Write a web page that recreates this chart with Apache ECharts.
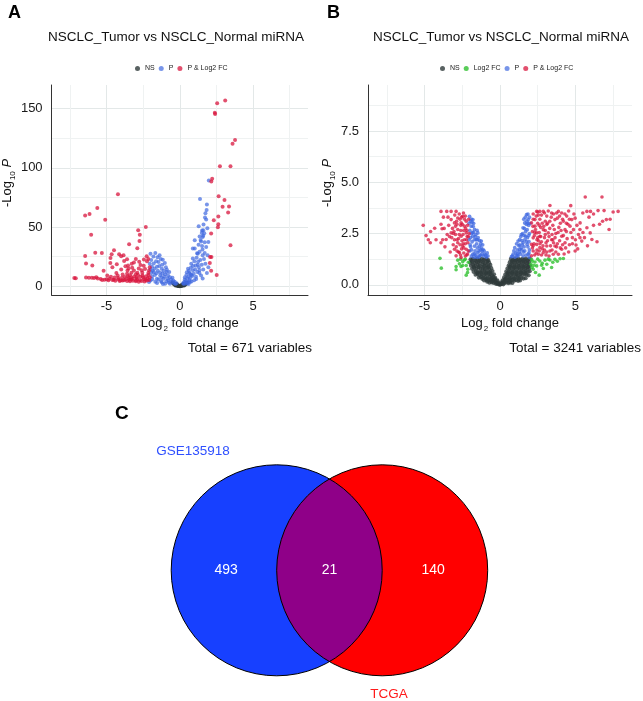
<!DOCTYPE html>
<html>
<head>
<meta charset="utf-8">
<script src="https://cdn.jsdelivr.net/npm/echarts@6/dist/echarts.min.js"></script>
<style>
  html, body { margin: 0; padding: 0; background: #fff; }
  #chart { width: 643px; height: 701px; }
</style>
</head>
<body>
<div id="chart"></div>
<script>
// ---- panel A : volcano (GSE135918) ----
const nsA = [[-0.5,3.0],[-0.45,2.6],[-0.4,1.5],[-0.35,2.1],[-0.32,1.6],[-0.3,0.6],[-0.28,1.2],[-0.25,0.8],[-0.22,1.8],[-0.2,0.5],
  [-0.18,1.1],[-0.15,0.3],[-0.12,0.7],[-0.1,0.2],[-0.08,0.4],[-0.05,0.1],[-0.02,0.05],[0,0],[0.02,0.1],[0.05,0.2],
  [0.08,0.5],[0.1,0.3],[0.12,0.8],[0.15,0.4],[0.18,1.2],[0.2,0.6],[0.22,1.5],[0.25,0.9],[0.28,1.9],[0.3,1.1],
  [0.3,0.5],[0.33,1.6],[0.36,2.2],[0.4,1.4],[0.45,2.4],[0.5,2.9]];
const pA = [[-2.0,27.4],[-1.67,28],[-1.16,22.4],[-1.45,20.3],[-1.78,19.2],[-1.9,16.3],[-1.56,16.3],[-1.23,14.7],[-0.9,11.9],[-1.0,10],
  [-0.67,7.6],[-0.45,4.8],[-0.22,2.5],[-1.78,11.9],[-1.9,8.2],[-1.56,6.2],[-1.34,9],[-1.12,6.2],[-0.78,4.8],[-2.0,4.8],
  [-1.67,3.7],[-1.23,3.2],[-1.0,2.1],[-0.67,2.1],[-1.95,22],[-1.85,13],[-1.8,25],[-1.7,9.5],[-1.62,21],[-1.5,13],
  [-1.45,5.5],[-1.4,17],[-1.35,11.5],[-1.3,23],[-1.25,7.5],[-1.2,18],[-1.1,13],[-1.05,8],[-0.95,16],[-0.85,6.5],
  [-0.8,9],[-0.75,3],[-0.6,5.5],[-0.55,3.5],[-0.5,7],[-0.4,2.5],[-0.35,3.6],[-0.3,1.8],[-1.95,11],[-2.05,19],
  [-2.1,3.5],[-1.88,5.8],[-1.72,15],[-1.6,10.8],[-1.52,24.5],[-1.38,26],[-1.28,4.3],[-1.18,10.6],[-0.92,4.2],[-0.88,13.8],
  [-1.02,19.5],[-0.72,12],[-2.0,14],[-1.55,2.6],[-1.15,1.8],
  [1.98,89.3],[1.38,73.7],[1.85,69],[1.83,64.4],[1.75,61.5],[1.8,56.3],[1.88,49],[1.29,50.6],[1.52,47],[1.6,47.2],
  [1.35,42],[1.6,42.5],[1.95,37.3],[1.7,37],[1.52,34],[1.02,31.7],[1.18,27.7],[1.02,38.7],[1.56,41.5],[1.67,44.6],
  [1.45,37.7],[0.89,31.7],[1.23,27.4],[0.89,23.4],[1.56,26],[0.78,19],[1.23,18],[0.56,14.7],[0.89,13.4],[1.34,13.4],
  [0.45,9.3],[0.78,9.3],[1.34,11],[0.34,5.7],[0.67,5],[1.12,6],[0.22,2.5],[1.56,6.5],[0.3,3.5],[0.4,4.2],
  [0.5,6.5],[0.55,3.8],[0.6,8],[0.65,11],[0.7,6.8],[0.75,15.5],[0.8,4],[0.85,8.5],[0.9,17],[0.95,10.5],
  [1.0,21],[1.05,14],[1.1,8],[1.15,24],[1.2,12],[1.25,20.5],[1.3,16],[1.35,29],[1.4,22],[1.45,9],
  [1.5,18],[1.55,31],[1.6,14],[1.65,23],[1.7,28],[1.75,19],[1.8,33],[1.85,11],[1.9,26],[1.95,16],
  [0.35,7.6],[0.48,11.8],[0.62,13],[0.72,10.2],[0.98,5],[1.08,17.5],[1.28,35],[1.42,39],[1.5,45],[1.62,52],
  [1.72,58],[0.52,2.6],[0.68,3.2],[0.42,2.2],[0.28,1.9],[0.6,1.9]];
const bothA = [[-7.2,6.8],[-7.1,6.6],[-6.46,59.7],[-6.16,61],[-5.63,66],[-6.05,43.5],[-4.22,77.7],[-5.09,56],[-6.46,25.4],[-6.4,19.2],
  [-5.97,17.5],[-5.77,28.3],[-5.32,28],[-5.2,13],[-6.4,7.2],[-6.2,7],[-6.0,7.1],[-3.84,26],[-3.46,35.3],[-2.84,47.2],
  [-2.73,43.5],[-2.32,50],[-2.75,38.1],[-2.9,32],[-4.49,30.3],[-4.73,23.7],[-4.14,27],[-4.65,26.9],[-4.0,25.2],[-4.74,19.5],
  [-3.8,21.2],[-3.71,16.7],[-3.53,17.5],[-3.28,19],[-3.13,20],[-2.77,20.7],[-2.68,17.8],[-2.46,17.3],[-2.26,25.2],[-2.24,21],
  [-2.15,23],[-2.37,14.4],[-3.13,13.3],[-3.57,13.3],[-3.3,11.3],[-2.9,11.3],[-2.56,11.3],[-2.5,7.6],[-2.97,7],[-4.33,11],
  [-4.24,9],[-4.51,5.4],[-5.14,5.4],[-4.87,5],[-4.02,5],[-3.8,5],[-3.46,5.4],[-3.24,6],[-2.99,5],[-2.72,5],
  [-2.35,5.4],[-2.14,9.3],[-2.1,13.3],[-5.6,6.5],[-5.4,6],[-5.3,5.2],[-5.0,5.8],[-4.8,6.2],[-4.6,5.1],[-4.4,4.6],
  [-4.2,5.5],[-4.1,4.3],[-3.9,4.8],[-3.7,5.9],[-3.6,4.4],[-3.5,6.8],[-3.4,4.1],[-3.3,7.5],[-3.2,4.6],[-3.1,8.2],
  [-3.0,4.2],[-2.9,6.3],[-2.85,9.5],[-2.8,3.8],[-2.7,7.9],[-2.6,4.4],[-2.55,9],[-2.45,6.1],[-2.4,3.9],[-2.3,8.4],
  [-2.25,4.7],[-2.2,6.5],[-2.15,11],[-2.1,5.2],[-2.05,16],[-2.05,7.5],[-3.9,9.8],[-3.6,10.5],[-3.4,9.2],[-3.0,10],
  [-2.6,13.5],[-3.5,14.8],[-3.25,15.5],[-2.8,15],[-4.0,14],[-4.6,16],[-2.45,22.5],[-3.0,23],[-3.6,22.8],[-4.3,18.5],
  [-5.7,7.4],[-5.85,6.8],[-4.95,9],[-4.7,8],[-4.45,7.2],[-4.2,6.8],[-3.95,7],[-3.75,7.8],[-3.55,8.4],[-3.35,5.6],
  [2.55,154.6],[3.1,157],[2.39,146.6],[2.41,145.5],[3.77,123.5],[3.6,120.3],[2.74,101.4],[3.46,101.4],[2.21,90.7],[2.15,88.5],
  [2.65,76],[3.05,72.9],[2.92,67],[3.36,67.3],[3.3,62.2],[2.32,55.7],[2.63,58.8],[2.63,52.3],[2.6,49.7],[2.14,44.4],
  [3.46,34.5],[2.07,24.6],[2.16,24.6],[2.05,19.5],[2.14,13],[2.52,9.3]];

// ---- panel B : volcano (TCGA) ----
const nsB = [[-1.95,1.24],[-1.8,1.27],[-1.65,1.21],[-1.5,1.26],[-1.35,1.22],[-1.2,1.28],[-1.05,1.23],[-0.9,1.26],[-0.78,1.2],
  [-1.98,1.08],[-1.85,1.12],[-1.7,1.06],[-1.55,1.11],[-1.42,1.07],[-1.28,1.13],[-1.12,1.09],[-0.98,1.05],[-0.85,1.12],[-0.72,1.08],
  [-1.92,0.93],[-1.78,0.97],[-1.62,0.92],[-1.48,0.98],[-1.33,0.94],[-1.18,0.99],[-1.03,0.93],[-0.9,0.96],[-0.76,0.92],[-0.64,0.97],
  [-1.85,0.78],[-1.72,0.82],[-1.58,0.77],[-1.44,0.83],[-1.3,0.79],[-1.15,0.81],[-1.0,0.76],[-0.86,0.82],[-0.72,0.78],[-0.58,0.81],
  [-1.75,0.63],[-1.6,0.67],[-1.46,0.62],[-1.32,0.66],[-1.18,0.64],[-1.04,0.68],[-0.9,0.62],[-0.77,0.66],[-0.63,0.63],[-0.5,0.67],
  [-1.62,0.49],[-1.48,0.52],[-1.34,0.47],[-1.2,0.51],[-1.06,0.48],[-0.92,0.53],[-0.78,0.49],[-0.65,0.52],[-0.52,0.47],[-0.4,0.51],
  [-1.4,0.35],[-1.26,0.38],[-1.12,0.34],[-0.98,0.37],[-0.84,0.33],[-0.7,0.38],[-0.57,0.35],[-0.44,0.37],[-0.32,0.34],
  [-1.05,0.21],[-0.92,0.24],[-0.78,0.2],[-0.65,0.23],[-0.52,0.21],[-0.4,0.24],[-0.28,0.2],[-0.18,0.22],
  [-0.7,0.1],[-0.55,0.12],[-0.42,0.09],[-0.3,0.11],[-0.2,0.08],[-0.1,0.1],[-0.25,0.04],[-0.12,0.03],[-0.05,0.02],[0,0],
  [-1.88,1.17],[-1.6,1.16],[-1.36,1.17],[-1.1,1.18],[-0.82,1.16],[-1.72,0.88],[-1.4,0.87],[-1.1,0.87],[-0.8,0.86],[-1.52,0.57],
  [-1.25,0.58],[-0.96,0.57],[-0.7,0.58],[-1.18,0.29],[-0.9,0.29],[-0.6,0.28],[-0.35,0.28],[-0.85,0.15],[-0.5,0.16],
  [0.72,1.26],[0.85,1.22],[0.98,1.28],[1.1,1.23],[1.22,1.27],[1.35,1.21],[1.48,1.26],[1.6,1.23],[1.72,1.28],[1.85,1.22],[1.97,1.26],
  [0.65,1.1],[0.78,1.07],[0.9,1.12],[1.03,1.08],[1.16,1.13],[1.29,1.06],[1.42,1.11],[1.55,1.08],[1.68,1.12],[1.8,1.07],[1.93,1.11],
  [0.58,0.95],[0.7,0.92],[0.83,0.97],[0.96,0.93],[1.09,0.98],[1.22,0.94],[1.35,0.96],[1.48,0.92],[1.61,0.97],[1.74,0.93],[1.87,0.98],[1.98,0.94],
  [0.5,0.8],[0.63,0.77],[0.76,0.82],[0.89,0.78],[1.02,0.83],[1.15,0.79],[1.28,0.81],[1.41,0.77],[1.54,0.82],[1.67,0.78],[1.8,0.83],[1.93,0.79],
  [0.42,0.65],[0.55,0.62],[0.68,0.67],[0.81,0.63],[0.94,0.68],[1.07,0.64],[1.2,0.66],[1.33,0.62],[1.46,0.67],[1.59,0.63],[1.72,0.68],[1.85,0.64],[1.97,0.66],
  [0.35,0.5],[0.48,0.47],[0.6,0.52],[0.73,0.48],[0.86,0.53],[0.99,0.49],[1.12,0.51],[1.25,0.47],[1.38,0.52],[1.51,0.48],[1.64,0.53],[1.77,0.49],[1.9,0.46],
  [0.27,0.36],[0.4,0.33],[0.52,0.38],[0.65,0.34],[0.78,0.37],[0.91,0.33],[1.04,0.38],[1.17,0.35],[1.3,0.37],[1.43,0.33],[1.56,0.3],[1.7,0.32],
  [0.18,0.22],[0.3,0.24],[0.42,0.2],[0.55,0.23],[0.68,0.21],[0.81,0.24],[0.94,0.2],[1.07,0.22],[1.2,0.19],[1.33,0.21],
  [0.08,0.1],[0.18,0.12],[0.3,0.09],[0.42,0.11],[0.55,0.08],[0.68,0.1],[0.82,0.09],[0.04,0.03],[0.12,0.04],[0.22,0.02],
  [0.8,1.17],[1.05,1.18],[1.3,1.17],[1.55,1.16],[1.8,1.17],[0.65,0.87],[0.95,0.86],[1.25,0.87],[1.55,0.88],[1.85,0.86],
  [0.5,0.57],[0.8,0.58],[1.1,0.57],[1.4,0.58],[1.7,0.57],[0.35,0.28],[0.65,0.28],[0.95,0.28],[1.25,0.27],[0.3,0.16],[0.6,0.15]];
const lfcB = [[-3.98,1.29],[-3.89,0.81],[-2.8,1.2],[-2.69,1.02],[-2.47,1.12],[-2.47,0.94],[-2.36,1.21],[-2.24,0.94],[-2.13,0.76],[-2.24,0.47],
  [-2.91,0.89],[-2.91,0.73],[-2.58,0.89],[-2.1,1.1],[-2.3,1.25],[-2.6,1.25],[-2.15,0.6],
  [2.09,1.24],[2.32,1.11],[2.64,1.16],[2.98,1.2],[3.31,1.21],[3.64,1.24],[3.98,1.27],[2.43,0.92],[2.76,0.95],
  [2.2,0.76],[2.6,0.47],[3.42,0.84],[2.87,0.79],[2.05,1.0],[2.15,1.15],[2.5,1.25],[2.8,1.05],[3.1,1.0],[3.5,1.1],
  [3.8,1.15],[2.25,0.95],[2.35,0.6],[3.2,1.25],[4.2,1.28],[2.12,0.85]];
const pB = [[-2.02,3.34],[-1.8,3.18],[-1.91,2.86],[-1.69,2.7],[-1.8,2.37],[-1.47,2.53],[-1.58,2.2],[-1.24,2.13],[-1.36,1.89],[-1.69,1.89],
  [-1.13,1.73],[-1.47,1.57],[-1.02,1.49],[-1.8,1.49],[-0.8,1.4],[-1.36,1.41],[-2.02,1.65],[-1.95,3.1],[-1.9,2.5],[-1.85,2.1],
  [-1.95,1.85],[-1.9,1.4],[-1.75,3.0],[-1.75,2.55],[-1.7,2.2],[-1.65,1.65],[-1.6,2.45],[-1.6,1.45],[-1.55,2.0],[-1.5,1.8],
  [-1.45,2.3],[-1.4,1.65],[-1.35,2.15],[-1.3,1.45],[-1.25,1.8],[-1.2,1.5],[-1.15,1.95],[-1.1,1.4],[-1.05,1.65],[-0.95,1.45],
  [-0.9,1.35],[-0.85,1.55],[-2.05,2.2],[-2.0,2.65],[-1.98,1.95],[-1.88,1.7],[-1.72,1.35],[-1.55,1.35],[-1.4,1.35],[-1.78,2.85],
  [-1.85,3.05],[-2.05,3.0],[-1.65,2.35],[-1.52,2.65],[-1.28,2.0],[-1.18,1.65],[-1.9,3.2],[-1.95,2.3],[-1.82,2.55],[-1.7,1.5],
  [-1.5,2.2],[-1.3,1.7],
  [1.76,3.42],[1.87,3.18],[1.64,3.02],[1.53,2.78],[1.8,2.69],[1.42,2.45],[1.7,2.37],[1.2,2.13],[1.53,2.05],[1.8,1.97],
  [0.98,1.81],[1.31,1.73],[1.64,1.65],[1.87,1.49],[0.87,1.49],[1.2,1.41],[1.53,1.41],[0.76,1.37],[1.95,3.3],[1.9,2.9],
  [1.95,2.5],[1.92,2.1],[1.95,1.7],[1.93,1.35],[1.85,3.45],[1.75,2.95],[1.7,2.6],[1.65,2.2],[1.6,1.85],[1.58,3.2],
  [1.5,2.5],[1.45,2.15],[1.4,1.8],[1.35,1.5],[1.3,2.2],[1.25,1.9],[1.15,1.7],[1.1,2.0],[1.05,1.55],[1.0,1.35],
  [0.92,1.65],[0.82,1.4],[1.72,1.45],[1.55,1.6],[1.38,2.35],[1.62,2.75],[1.82,2.3],[1.48,1.95],[1.68,3.3],[1.28,1.6],
  [1.12,1.42],[1.85,1.85],[1.98,3.0],[1.85,3.0],[1.9,2.4],[1.75,2.1],[1.6,2.4],[1.45,1.7],[1.3,1.95],[1.15,1.5],
  [1.78,3.1],[1.92,1.55]];
const bothB = [[-5.09,2.9],[-4.75,2.2],[-4.62,2.05],[-3.91,3.58],[-3.53,3.58],[-3.24,3.58],[-2.91,3.58],[-4.33,2.76],[-3.91,2.95],[-3.84,2.73],
  [-3.57,2.21],[-3.91,2.05],[-4.24,2.2],[-3.24,3.18],[-3.24,2.53],[-3.02,3.02],[-3.02,2.2],[-3.02,1.73],[-2.8,3.26],[-2.8,2.7],
  [-2.8,2.05],[-2.69,1.57],[-2.58,3.02],[-2.58,2.37],[-2.47,3.34],[-2.47,1.89],[-2.36,2.86],[-2.36,2.2],[-2.24,2.53],[-2.24,3.1],
  [-2.24,1.73],[-2.58,1.33],[-2.91,1.41],[-2.13,2.05],[-3.4,2.9],[-3.35,2.35],[-3.15,2.75],[-3.1,1.95],[-3.0,3.4],[-2.95,2.45],
  [-2.9,1.85],[-2.85,2.95],[-2.75,2.25],[-2.7,3.45],[-2.65,1.95],[-2.6,2.65],[-2.55,1.75],[-2.5,2.95],[-2.45,2.45],[-2.4,1.55],
  [-2.35,3.2],[-2.3,2.0],[-2.28,2.75],[-2.2,1.45],[-2.18,2.35],[-2.15,2.9],[-2.1,1.65],[-2.08,3.2],[-2.05,2.5],[-2.3,1.4],
  [-2.62,1.45],[-2.75,1.6],[-3.5,2.45],[-3.7,2.75],[-3.65,1.85],[-3.3,1.6],[-2.88,3.1],[-2.42,3.5],[-2.65,3.2],[-3.05,2.6],
  [-2.52,2.15],[-2.22,2.2],[-3.2,2.3],[-2.95,2.85],[-2.6,2.9],[-2.4,2.65],[-2.2,2.65],[-2.1,2.35],[-2.45,2.0],[-2.7,2.45],
  [-2.85,2.2],[-3.1,2.5],[-2.3,3.35],[-2.55,3.3],[-3.45,3.3],[-3.75,3.3],[-2.15,1.5],[-2.4,1.8],[-2.85,1.65],[-3.8,2.2],
  [-4.6,2.6],[-4.9,2.4],
  [5.65,4.28],[6.76,4.28],[3.31,3.87],[4.69,3.86],[5.76,3.58],[6.0,3.58],[6.5,3.62],[6.9,3.62],[7.83,3.58],[5.49,3.5],
  [6.2,3.45],[7.05,3.18],[7.23,2.7],[6.43,2.1],[2.43,3.58],[2.64,3.58],[2.87,3.58],[2.54,3.4],[2.2,3.2],[2.09,3.02],
  [2.32,2.86],[2.64,3.2],[3.1,3.35],[3.42,3.5],[3.64,3.18],[3.87,3.58],[4.09,3.5],[4.42,3.35],[4.76,3.18],[4.98,3.25],
  [5.31,3.02],[5.76,2.78],[5.98,2.53],[6.09,2.21],[5.42,2.13],[5.04,1.94],[4.98,1.65],[5.2,2.45],[4.87,2.69],[4.64,2.86],
  [4.31,2.69],[4.09,2.37],[4.31,2.05],[4.09,1.73],[3.87,1.49],[3.64,1.89],[3.42,2.2],[3.2,2.53],[3.1,2.94],[2.87,2.69],
  [2.64,2.37],[2.43,2.53],[2.2,2.29],[2.09,1.97],[2.43,1.97],[2.64,1.81],[2.2,1.65],[2.87,1.57],[3.1,1.89],[3.31,1.65],
  [3.53,1.49],[2.54,1.49],[2.09,1.41],[2.32,3.18],[6.6,2.95],[6.8,3.1],[7.3,3.2],[7.5,3.55],[5.9,3.3],[5.5,2.55],
  [5.1,2.9],[4.5,2.95],[4.2,3.1],[3.9,2.8],[3.7,2.5],[3.5,2.9],[3.3,3.1],[3.0,3.1],[2.8,3.0],[2.7,2.8],
  [2.5,3.0],[2.35,2.7],[2.15,2.6],[2.25,2.0],[2.55,2.15],[2.75,2.1],[2.95,2.3],[3.15,2.15],[3.35,1.9],[3.55,2.05],
  [3.75,1.85],[3.95,2.15],[4.2,2.4],[4.45,2.25],[4.6,1.95],[4.8,2.3],[4.55,1.6],[4.25,1.5],[3.05,1.45],[2.75,1.45],
  [2.3,1.45],[2.15,1.8],[2.45,1.7],[2.95,1.7],[3.25,1.4],[2.6,2.55],[3.0,2.65],[3.3,2.75],[3.6,2.7],[3.8,3.25],
  [4.0,3.0],[4.3,3.45],[4.55,3.6],[5.3,2.7],[5.6,2.3],[5.8,1.9],[6.2,2.9],[2.4,3.35],[2.75,3.4],[3.2,3.6],
  [2.95,3.5],[2.18,2.85],[2.28,2.4],[2.5,2.3],[2.65,2.0],[2.85,1.9],[3.05,2.05],[3.45,2.45],[3.65,2.3],[3.85,2.55],
  [4.05,2.65],[4.15,1.95],[4.35,1.8],[4.7,2.55],[5.0,2.2],[5.15,1.75],[4.9,3.45],[2.2,3.45],[2.5,3.55],[2.6,2.9],
  [2.9,2.85],[3.15,3.0],[3.4,3.3],[3.55,3.45],[3.75,3.5],[3.95,3.35],[4.15,3.2],[4.4,3.0],[4.6,3.2],[2.3,2.55],
  [2.45,2.2],[2.7,2.35],[3.0,2.45],[3.25,2.35],[3.5,2.2],[3.8,2.0],[4.0,1.8],[2.2,1.9],[2.4,1.55],[2.6,1.65],
  [2.8,1.75],[3.1,1.6],[3.45,1.7],[3.7,1.6],[4.4,2.6],[4.8,2.0],[5.3,2.3]];

// ticks
const xMajor = [-5, 0, 5];
const xMinor = [-7.5, -2.5, 2.5, 7.5];
const yMajorA = [0, 50, 100, 150];
const yMinorA = [25, 75, 125];
const yMajorB = [0, 2.5, 5, 7.5];
const yMinorB = [1.25, 3.75, 6.25, 8.75];
const yLabelsB = ['0.0', '2.5', '5.0', '7.5'];

const totals = [671, 3241];
const plotTitle = 'NSCLC_Tumor vs NSCLC_Normal miRNA';

// ---- panel C : venn ----
const vennSets = ['GSE135918', 'TCGA'];
const vennCounts = [493, 21, 140]; // only GSE, both, only TCGA

const FONT = '"Liberation Sans", Arial, sans-serif';
const COL = { ns: '#2f3b3b', lfc: '#2fc02f', p: '#3f68e0', both: '#d8163e' };
const GRID_MAJOR = '#e3e8e8';
const GRID_MINOR = '#eff2f2';

function near(a, b) { return Math.abs(a - b) < 1e-6; }

// one colour per split line, index follows the tick index from min
function gridColors(min, max, step, majors, minors) {
  const out = [];
  for (let i = 0; min + i * step <= max + 1e-9; i++) {
    const v = min + i * step;
    if (majors.some(m => near(m, v))) out.push(GRID_MAJOR);
    else if (minors.some(m => near(m, v))) out.push(GRID_MINOR);
    else out.push('rgba(0,0,0,0)');
  }
  return out;
}

const nameRich = {
  m: { fontSize: 13, lineHeight: 15, verticalAlign: 'top', fontFamily: FONT, color: '#111' },
  s: { fontSize: 8, lineHeight: 8, verticalAlign: 'top', padding: [8, 0, 0, 1], fontFamily: FONT, color: '#111' },
  i: { fontSize: 13, lineHeight: 15, verticalAlign: 'top', fontStyle: 'italic', fontFamily: FONT, color: '#111' }
};

function xAxis(gridIndex) {
  return {
    type: 'value', gridIndex: gridIndex,
    min: -8.75, max: 8.75, interval: 1.25,
    axisLine: { show: true, onZero: false, lineStyle: { color: '#333', width: 1 } },
    axisTick: { show: false },
    axisLabel: {
      fontSize: 13, color: '#1a1a1a', fontFamily: FONT, margin: 5,
      formatter: v => { const t = xMajor.find(m => near(m, v)); return t === undefined ? '' : String(t); }
    },
    splitLine: { show: true, lineStyle: { width: 1, color: gridColors(-8.75, 8.75, 1.25, xMajor, xMinor) } },
    name: '{m|Log}{s|2}{m| fold change}',
    nameLocation: 'middle', nameGap: 22,
    nameTextStyle: { rich: nameRich, padding: [0, 0, 0, 20] }
  };
}

function yAxis(gridIndex, min, max, step, majors, minors, labels) {
  return {
    type: 'value', gridIndex: gridIndex,
    min: min, max: max, interval: step,
    axisLine: { show: true, onZero: false, lineStyle: { color: '#333', width: 1 } },
    axisTick: { show: false },
    axisLabel: {
      fontSize: 13, color: '#1a1a1a', fontFamily: FONT, margin: 9,
      formatter: v => { const k = majors.findIndex(m => near(m, v)); return k < 0 ? '' : labels[k]; }
    },
    splitLine: { show: true, lineStyle: { width: 1, color: gridColors(min, max, step, majors, minors) } },
    name: '{m|-Log}{s|10}{m| }{i|P}',
    nameLocation: 'middle', nameGap: 20,
    nameTextStyle: { rich: nameRich, padding: [0, 0, 0, 14] }
  };
}

function pts(name, data, xi, col, size, op) {
  return {
    type: 'scatter', name: name, data: data,
    xAxisIndex: xi, yAxisIndex: xi,
    symbol: 'circle', symbolSize: size,
    itemStyle: { color: col, opacity: op },
    silent: true
  };
}

// venn geometry: two equal circles, overlap drawn as a lens polygon
const vCx1 = 276.7, vCx2 = 382.2, vCy = 570.3, vR = 105.5;
const half = (vCx2 - vCx1) / 2;
const lensX = vCx1 + half;
const alpha = Math.acos(half / vR);
const lensPts = [];
for (let k = 0; k <= 60; k++) {
  const t = -alpha + 2 * alpha * k / 60;
  lensPts.push([vCx1 + vR * Math.cos(t), vCy + vR * Math.sin(t)]);
}
for (let k = 0; k <= 60; k++) {
  const t = Math.PI - alpha + 2 * alpha * k / 60;
  lensPts.push([vCx2 + vR * Math.cos(t), vCy + vR * Math.sin(t)]);
}

function txt(x, y, text, opts) {
  return {
    type: 'text', x: x, y: y, silent: true,
    style: Object.assign({
      text: text, fill: '#111', fontFamily: FONT, fontSize: 13,
      textAlign: 'center', textVerticalAlign: 'middle'
    }, opts || {})
  };
}

const legendBase = {
  padding: 0, icon: 'circle', itemWidth: 5, itemHeight: 5, itemGap: 4,
  textStyle: { fontSize: 7, color: '#222', fontFamily: FONT }
};

const chart = echarts.init(document.getElementById('chart'), null, { renderer: 'canvas' });

chart.setOption({
  animation: false,
  backgroundColor: '#fff',
  grid: [
    { left: 45, top: 85, width: 263, height: 210 },
    { left: 368, top: 85, width: 264, height: 210 }
  ],
  xAxis: [xAxis(0), xAxis(1)],
  yAxis: [
    yAxis(0, -7.5, 170, 2.5, yMajorA, yMinorA, yMajorA.map(String)),
    yAxis(1, -0.5, 9.75, 0.25, yMajorB, yMinorB, yLabelsB)
  ],
  legend: [
    Object.assign({ data: ['NS', 'P', 'P & Log2 FC'], left: 135, top: 65 }, legendBase),
    Object.assign({ data: ['NS', 'Log2 FC', 'P', 'P & Log2 FC'], left: 440, top: 65 }, legendBase)
  ],
  series: [
    pts('NS', nsA, 0, COL.ns, 4, 0.8),
    pts('P', pA, 0, COL.p, 4, 0.7),
    pts('P & Log2 FC', bothA, 0, COL.both, 4, 0.75),
    pts('NS', nsB, 1, COL.ns, 4.2, 0.8),
    pts('Log2 FC', lfcB, 1, COL.lfc, 3.6, 0.8),
    pts('P', pB, 1, COL.p, 3.8, 0.75),
    pts('P & Log2 FC', bothB, 1, COL.both, 3.6, 0.75)
  ],
  graphic: [
    txt(8, 4, 'A', { fontSize: 18, fontWeight: 'bold', textAlign: 'left', textVerticalAlign: 'top', fill: '#000' }),
    txt(327, 4, 'B', { fontSize: 18, fontWeight: 'bold', textAlign: 'left', textVerticalAlign: 'top', fill: '#000' }),
    txt(115, 404, 'C', { fontSize: 19, fontWeight: 'bold', textAlign: 'left', textVerticalAlign: 'top', fill: '#000' }),
    txt(176, 37, plotTitle, { fontSize: 13.5 }),
    txt(501, 37, plotTitle, { fontSize: 13.5 }),
    txt(312, 348, 'Total = ' + totals[0] + ' variables', { textAlign: 'right', fontSize: 13.5 }),
    txt(641, 348, 'Total = ' + totals[1] + ' variables', { textAlign: 'right', fontSize: 13.5 }),
    { type: 'circle', silent: true, shape: { cx: vCx1, cy: vCy, r: vR }, style: { fill: '#1740ff' } },
    { type: 'circle', silent: true, shape: { cx: vCx2, cy: vCy, r: vR }, style: { fill: '#ff0000' } },
    { type: 'polygon', silent: true, shape: { points: lensPts }, style: { fill: '#8f0088' } },
    { type: 'circle', silent: true, shape: { cx: vCx1, cy: vCy, r: vR }, style: { fill: 'none', stroke: '#000', lineWidth: 1 } },
    { type: 'circle', silent: true, shape: { cx: vCx2, cy: vCy, r: vR }, style: { fill: 'none', stroke: '#000', lineWidth: 1 } },
    txt(vCx1 - 50.5, vCy, String(vennCounts[0]), { fill: '#fff', fontSize: 14 }),
    txt(lensX, vCy, String(vennCounts[1]), { fill: '#fff', fontSize: 14 }),
    txt(vCx2 + 51, vCy, String(vennCounts[2]), { fill: '#fff', fontSize: 14 }),
    txt(193, 451, vennSets[0], { fill: '#2f50ff', fontSize: 13.5 }),
    txt(389, 694, vennSets[1], { fill: '#ff1a1a', fontSize: 13.5 })
  ]
});
</script>
</body>
</html>
